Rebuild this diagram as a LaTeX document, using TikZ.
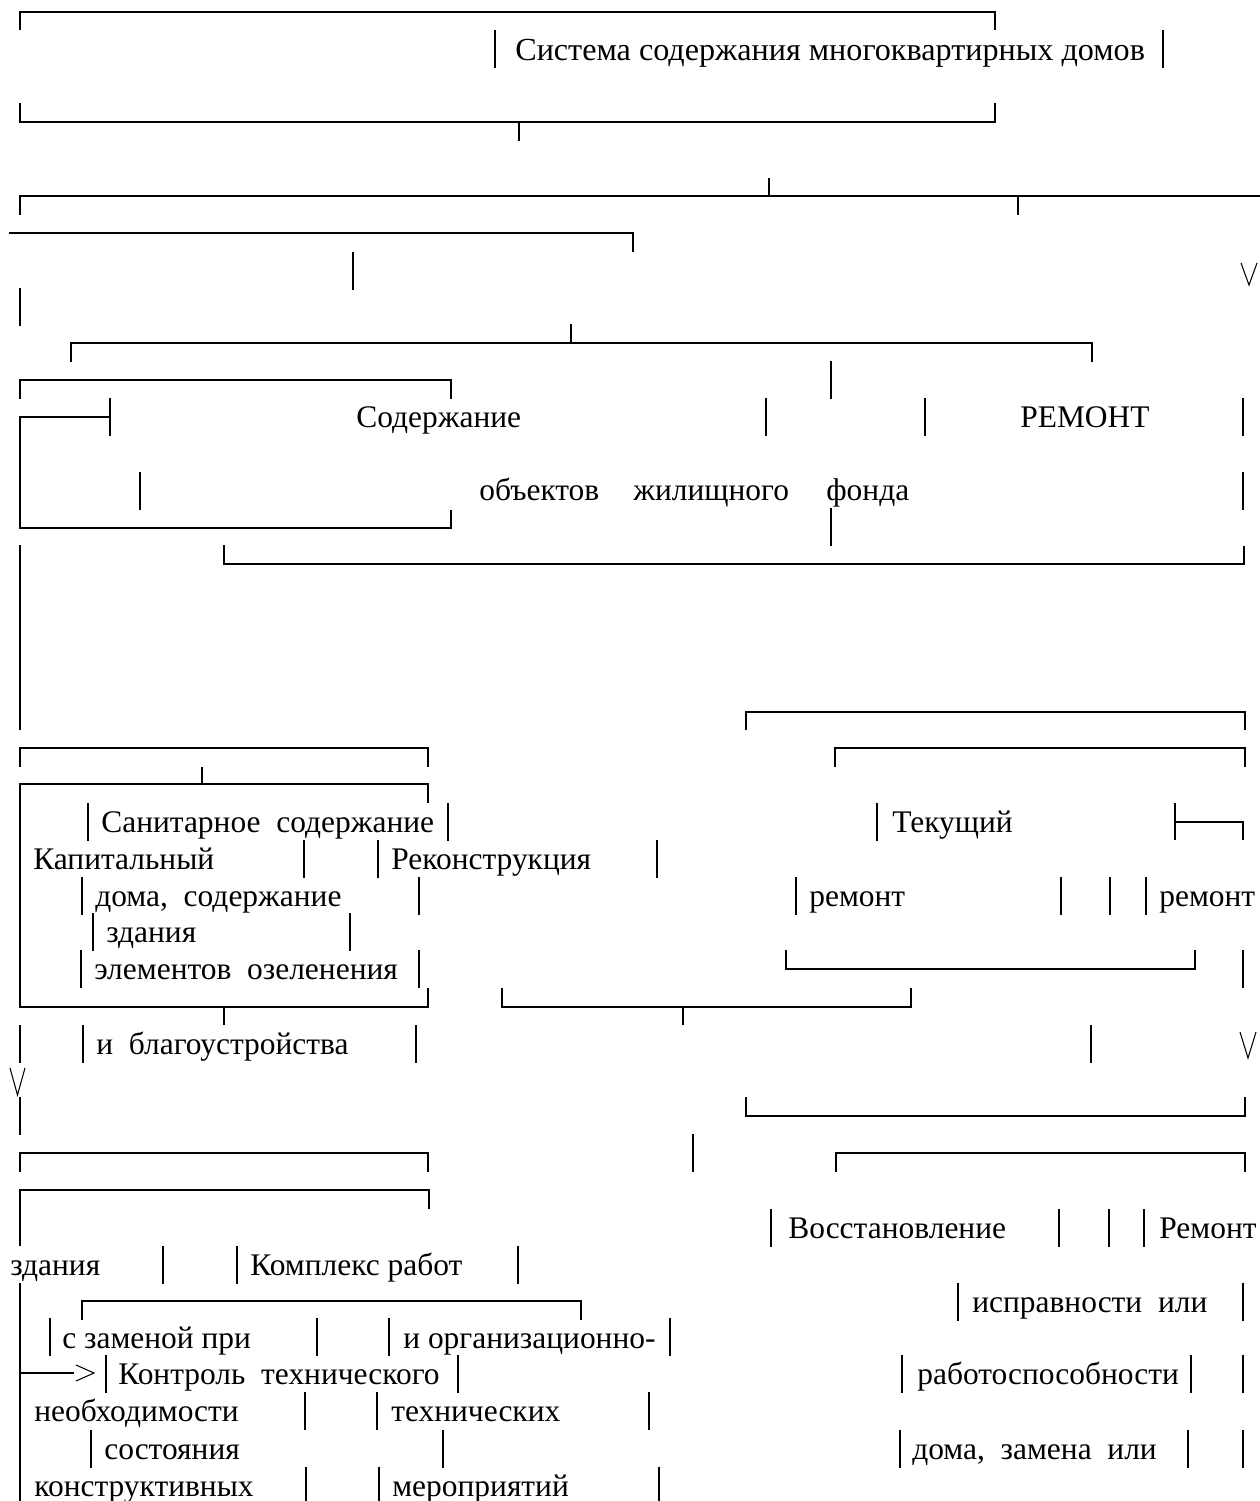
\documentclass[tikz,border=0pt]{standalone}
\usepackage{fontspec}
\setmainfont{Liberation Serif}

\begin{document}
\begin{tikzpicture}[
  x=0.02cm, y=-0.02cm, line width=1.5pt,
  rule/.style={line width=1.5pt},
  tip/.style={line width=.6pt, line join=miter},
  lbl/.style={anchor=base west, inner sep=0pt, font=\fontsize{17.9}{21}\selectfont},
]
  % Page: one pixel of the scan is one unit, y runs downwards.
  \useasboundingbox (0,0) rectangle (1260,1501);
  \def\cell{37.5}

  % Brackets drawn with box characters: corners, runs and tees.
  \draw[rule] (20,30) -- (20,12) -- (995,12) -- (995,30);
  \draw[rule] (20,103) -- (20,122) -- (995,122) -- (995,103);
  \draw[rule] (519,122) -- (519,141);
  \draw[rule] (20,215) -- (20,196) -- (1260,196);
  \draw[rule] (769,178) -- (769,196);
  \draw[rule] (1018,196) -- (1018,215);
  \draw[rule] (9,233) -- (633,233) -- (633,252);
  \draw[rule] (571,324) -- (571,343);
  \draw[rule] (71,362) -- (71,343) -- (1092,343) -- (1092,362);
  \draw[rule] (20,399) -- (20,380) -- (451,380) -- (451,399);
  \draw[rule] (110,398) -- (110,436);
  \draw[rule] (110,417) -- (20,417) -- (20,528) -- (451,528) -- (451,510);
  \draw[rule] (224,545) -- (224,564) -- (1244,564) -- (1244,546);
  \draw[rule] (20,545) -- (20,730);
  \draw[rule] (746,730) -- (746,712) -- (1245,712) -- (1245,730);
  \draw[rule] (20,767) -- (20,748) -- (428,748) -- (428,767);
  \draw[rule] (835,767) -- (835,748) -- (1245,748) -- (1245,767);
  \draw[rule] (202,767) -- (202,784);
  \draw[rule] (428,803) -- (428,784) -- (20,784) -- (20,1007) -- (428,1007) -- (428,988);
  \draw[rule] (224,1007) -- (224,1025);
  \draw[rule] (1175,803) -- (1175,840);
  \draw[rule] (1175,822) -- (1243,822) -- (1243,840);
  \draw[rule] (786,950) -- (786,969) -- (1195,969) -- (1195,950);
  \draw[rule] (502,988) -- (502,1007) -- (911,1007) -- (911,988);
  \draw[rule] (683,1007) -- (683,1025);
  \draw[rule] (746,1097) -- (746,1116) -- (1245,1116) -- (1245,1097);
  \draw[rule] (20,1172) -- (20,1153) -- (428,1153) -- (428,1172);
  \draw[rule] (836,1172) -- (836,1153) -- (1245,1153) -- (1245,1172);
  \draw[rule] (20,1246) -- (20,1190) -- (429,1190) -- (429,1209);
  \draw[rule] (82,1320) -- (82,1301) -- (581,1301) -- (581,1320);
  \draw[rule] (20,1283) -- (20,1501);
  \draw[rule] (20,1373) -- (74,1373);

  % Single vertical strokes, one text row high.
  \foreach \x/\y in {495/30, 1163/30, 353/252, 20/288, 831/361,
      766/398, 925/398, 1243/398, 140/472, 1243/472, 831/508,
      88/803, 448/803, 877/803, 304/840, 378/840, 657/840,
      82/877, 419/877, 796/877, 1061/877, 1110/877, 1146/877,
      93/913, 350/913, 81/950, 419/950, 1243/950,
      20/1025, 83/1025, 416/1025, 1091/1025, 20/1097, 693/1134,
      771/1209, 1059/1209, 1109/1209, 1144/1209,
      163/1246, 237/1246, 518/1246, 958/1283, 1243/1283,
      50/1318, 317/1318, 389/1318, 670/1318,
      106/1355, 458/1355, 902/1355, 1191/1355, 1243/1355,
      305/1392, 377/1392, 649/1392,
      91/1430, 443/1430, 900/1430, 1188/1430, 1243/1430,
      306/1467, 379/1467, 659/1467}
    \draw[rule] (\x,\y) -- ++(0,\cell);

  % Arrow heads typed as V and >.
  \draw[tip] (1241,263) -- (1249,285) -- (1257,263);
  \draw[tip] (1240,1032) -- (1248,1058) -- (1256,1032);
  \draw[tip] (10,1068) -- (17.5,1095) -- (25,1068);
  \draw[tip] (76,1365) -- (94,1373) -- (76,1381);

  % Texts.
  \node[lbl, font=\fontsize{18.3}{21}\selectfont] (sys) at (514,60) {Система содержания многоквартирных домов};
  \node[lbl] (sod) at (355,427) {Содержание};
  \node[lbl] (rem) at (1019,427) {РЕМОНТ};
  \node[lbl] (obj) at (478,500) {объектов};
  \node[lbl] (zhil) at (632,500) {жилищного};
  \node[lbl] (fond) at (825,500) {фонда};
  \node[lbl] (san) at (100,832) {Санитарное~ содержание};
  \node[lbl] (tek) at (891,832) {Текущий};
  \node[lbl] (kap) at (32,869) {Капитальный};
  \node[lbl] (rek) at (390,869) {Реконструкция};
  \node[lbl] (doma) at (94,906) {дома,~ содержание};
  \node[lbl] (rem1) at (808,906) {ремонт};
  \node[lbl] (rem2) at (1158,906) {ремонт};
  \node[lbl] (zd1) at (105,942) {здания};
  \node[lbl] (elem) at (93,979) {элементов~ озеленения};
  \node[lbl] (blag) at (95,1054) {и~ благоустройства};
  \node[lbl] (vos) at (787,1238) {Восстановление};
  \node[lbl] (remk) at (1158,1238) {Ремонт};
  \node[lbl] (zd2) at (9,1275) {здания};
  \node[lbl] (kompl) at (249,1275) {Комплекс работ};
  \node[lbl] (ispr) at (971,1312) {исправности~ или};
  \node[lbl] (zam) at (61,1348) {с заменой при};
  \node[lbl] (org) at (402,1348) {и организационно-};
  \node[lbl] (kontr) at (117,1384) {Контроль~ технического};
  \node[lbl] (rab) at (916,1384) {работоспособности};
  \node[lbl] (neob) at (33,1421) {необходимости};
  \node[lbl] (tehn) at (390,1421) {технических};
  \node[lbl] (sost) at (103,1459) {состояния};
  \node[lbl] (dz) at (911,1459) {дома,~ замена~ или};
  \node[lbl] (konstr) at (33,1496) {конструктивных};
  \node[lbl] (mer) at (391,1496) {мероприятий};
\end{tikzpicture}
\end{document}
